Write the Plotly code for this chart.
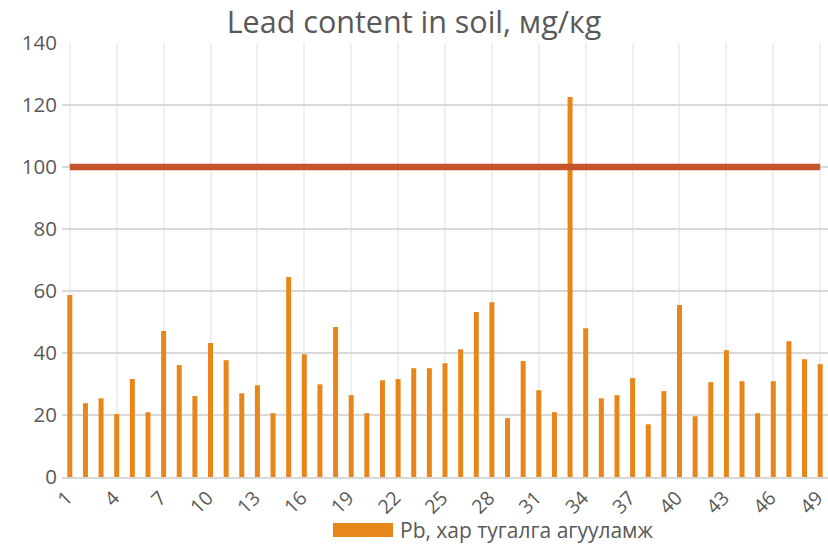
import plotly.graph_objects as go

categories = [str(i) for i in range(1, 50)]
pb_values = [58.7, 23.8, 25.4, 20.3, 31.6, 20.9, 47.1, 36.1, 26.1, 43.2,
             37.7, 27.0, 29.6, 20.6, 64.5, 39.6, 29.9, 48.4, 26.4, 20.6,
             31.2, 31.6, 35.1, 35.1, 36.7, 41.2, 53.2, 56.4, 19.0, 37.4,
             28.0, 20.9, 122.6, 48.0, 25.4, 26.4, 31.9, 17.0, 27.7, 55.5,
             19.6, 30.6, 40.9, 30.9, 20.6, 30.9, 43.8, 38.0, 36.4]
limit_value = 100
limit_values = [limit_value] * len(categories)
tick_labels = [str(i) for i in range(1, 50, 3)]
series_name = "Pb, хар тугалга агууламж"
title_text = "Lead content in soil, мg/кg"

BAR = "#E8861A"
LINE = "#C4552B"
TXT = "#595959"
FONT = "Open Sans, sans-serif"

W, H = 828, 545

fig = go.Figure()
fig.add_trace(go.Bar(x=categories, y=pb_values, name=series_name,
                     marker=dict(color=BAR, line=dict(width=0)),
                     showlegend=False))
fig.add_trace(go.Scatter(x=categories, y=limit_values, mode="lines",
                         line=dict(color=LINE, width=6.5), showlegend=False,
                         hoverinfo="skip"))

fig.update_layout(
    width=W, height=H,
    margin=dict(l=62, r=0, t=43, b=68, autoexpand=False),
    paper_bgcolor="white", plot_bgcolor="white",
    bargap=0.68,
    title=dict(text=title_text, x=0.5, xanchor="center", y=1 - 22 / H, yanchor="middle",
               font=dict(family=FONT, size=30.5, color=TXT)),
    font=dict(family=FONT, color=TXT),
    xaxis=dict(type="category", tickmode="array", tickvals=tick_labels,
               ticktext=tick_labels, tickangle=-45, showgrid=True,
               gridcolor="#EFEFEF", gridwidth=1.5, showline=True,
               linecolor="#D9D9D9", linewidth=1.5, ticks="", automargin=False,
               ticklabelshift=-3,
               tickfont=dict(family=FONT, size=19.5, color=TXT),
               range=[-0.5, 48.5]),
    yaxis=dict(range=[0, 140], dtick=20, showgrid=True, gridcolor="#D9D9D9",
               gridwidth=1.5, zeroline=False, ticks="", automargin=False,
               ticklabelstandoff=4,
               tickfont=dict(family=FONT, size=20.5, color=TXT)),
    showlegend=False,
)

# legend swatch + label
fig.add_shape(type="rect", xref="paper", yref="paper",
              x0=(333 - 62) / 766, x1=(393 - 62) / 766,
              y0=-(537 - 477) / 434, y1=-(523 - 477) / 434,
              fillcolor=BAR, line=dict(width=0))
fig.add_annotation(text=series_name, xref="paper", yref="paper",
                   x=(398 - 62) / 766, y=-(530 - 477) / 434,
                   xanchor="left", yanchor="middle", showarrow=False,
                   font=dict(family=FONT, size=21, color=TXT))

fig.write_html("out.html",
               config={"displayModeBar": False},
               post_script="document.body.style.margin='0px';"
                           "document.body.style.overflow='hidden';")
